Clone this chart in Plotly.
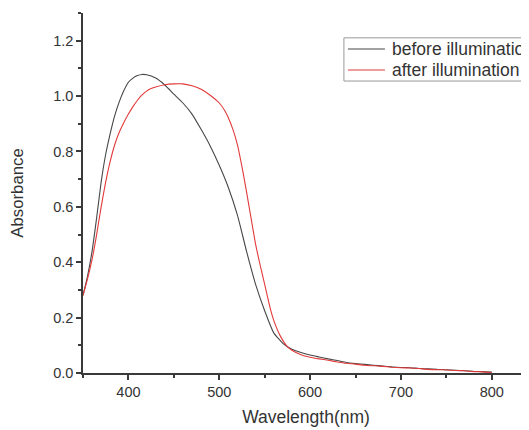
import plotly.graph_objects as go

# UV-vis absorbance spectra
wl_before = [350, 355, 360, 365, 370, 375, 380, 385, 390, 395, 400, 405, 410, 415,
             420, 430, 440, 450, 460, 470, 480, 490, 500, 510, 520, 530, 540, 550,
             560, 570, 575, 580, 590, 600, 610, 620, 630, 640, 650, 660, 670, 680,
             690, 700, 710, 720, 730, 740, 750, 760, 770, 780, 790, 800]
abs_before = [0.28, 0.35, 0.44, 0.56, 0.69, 0.79, 0.865, 0.93, 0.98, 1.02, 1.05, 1.065,
              1.074, 1.078, 1.077, 1.065, 1.04, 1.007, 0.975, 0.935, 0.88, 0.82, 0.75,
              0.67, 0.57, 0.44, 0.32, 0.225, 0.145, 0.107, 0.095, 0.086, 0.074, 0.065,
              0.058, 0.051, 0.045, 0.038, 0.034, 0.031, 0.028, 0.025, 0.022, 0.020,
              0.019, 0.016, 0.015, 0.013, 0.012, 0.010, 0.008, 0.006, 0.005, 0.003]

wl_after = [350, 355, 360, 365, 370, 375, 380, 385, 390, 395, 400, 405, 410, 415,
            420, 425, 430, 440, 450, 460, 470, 480, 490, 500, 506, 510, 515, 520, 525,
            530, 535, 540, 545, 550, 556, 560, 567, 575, 580, 590, 600, 610, 620,
            630, 640, 650, 660, 670, 680, 690, 700, 710, 720, 730, 740, 750, 760,
            770, 780, 790, 800]
abs_after = [0.28, 0.34, 0.41, 0.50, 0.60, 0.69, 0.765, 0.825, 0.87, 0.905, 0.935, 0.962,
             0.985, 1.004, 1.018, 1.027, 1.033, 1.041, 1.044, 1.044, 1.037, 1.025, 1.003,
             0.975, 0.948, 0.922, 0.88, 0.825, 0.745, 0.655, 0.56, 0.465, 0.39, 0.32,
             0.235, 0.19, 0.135, 0.095, 0.082, 0.066, 0.057, 0.051, 0.046, 0.040, 0.035,
             0.032, 0.028, 0.026, 0.024, 0.021, 0.019, 0.018, 0.016, 0.013, 0.012,
             0.011, 0.009, 0.008, 0.005, 0.004, 0.002]

series_names = ["before illumination", "after illumination"]
series_colors = ["#474747", "#e23a3a"]

AXIS = "#3a3a3a"
TXT = "#333333"
FONT = "Liberation Sans, Arial, sans-serif"

fig = go.Figure()
for wl, ab, name, color in zip([wl_before, wl_after], [abs_before, abs_after],
                               series_names, series_colors):
    fig.add_trace(go.Scatter(
        x=wl, y=ab, mode="lines", name=name, showlegend=False,
        line=dict(color=color, width=1.1, shape="spline", smoothing=0.5),
    ))

# legend drawn by hand: in the original it runs off the right edge of the image
fig.add_shape(type="rect", xref="paper", yref="paper",
              x0=0.585, x1=1.08, y0=0.811, y1=0.931,
              line=dict(color="#999999", width=1), fillcolor="white", layer="above")
for i, (name, color) in enumerate(zip(series_names, series_colors)):
    yy = 0.900 - i * 0.0585
    fig.add_shape(type="line", xref="paper", yref="paper",
                  x0=0.594, x1=0.677, y0=yy, y1=yy,
                  line=dict(color=color, width=1.1), layer="above")
    fig.add_annotation(xref="paper", yref="paper", x=0.689, y=yy,
                       xanchor="left", yanchor="middle", showarrow=False,
                       text=name, font=dict(size=17.5, color=TXT))

# the page body adds an 8px offset, so the figure is 8px smaller than the window
fig.update_layout(
    width=521, height=422,
    paper_bgcolor="white", plot_bgcolor="white",
    font=dict(family=FONT, color=TXT, size=14),
    margin=dict(l=75, r=0, t=5, b=57),
    showlegend=False,
    xaxis=dict(
        range=[350, 841], showgrid=False, zeroline=False,
        showline=True, linecolor=AXIS, linewidth=1.5,
        ticks="outside", ticklen=5, tickwidth=1.5, tickcolor=AXIS,
        tickmode="linear", tick0=400, dtick=100,
        minor=dict(ticks="outside", ticklen=3, tickwidth=1.5, tickcolor=AXIS, dtick=50, tick0=350),
        tickfont=dict(size=14.5), automargin=False,
        title=dict(text="Wavelength(nm)", font=dict(size=17.5), standoff=12),
    ),
    yaxis=dict(
        range=[0, 1.3], showgrid=False, zeroline=False,
        showline=True, linecolor=AXIS, linewidth=1.5,
        ticks="outside", ticklen=5, tickwidth=1.5, tickcolor=AXIS,
        tickmode="linear", tick0=0, dtick=0.2, tickformat=".1f",
        minor=dict(ticks="outside", ticklen=3, tickwidth=1.5, tickcolor=AXIS, dtick=0.1),
        tickfont=dict(size=14.5), automargin=False,
        title=dict(text="Absorbance", font=dict(size=16.8), standoff=33),
    ),
)

fig.write_html("out.html")
